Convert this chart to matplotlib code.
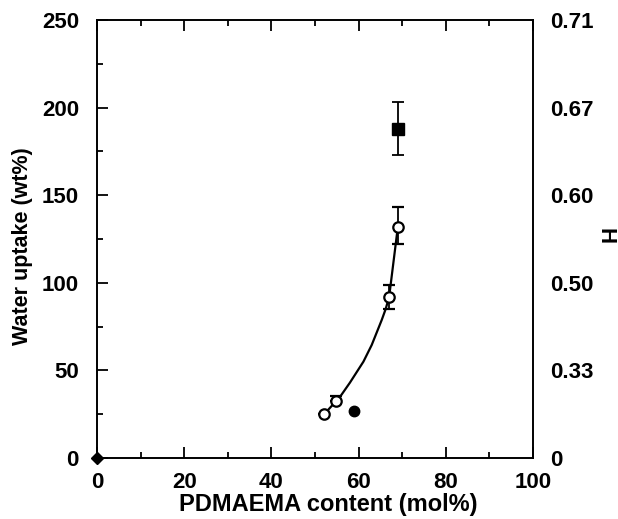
import numpy as np
import matplotlib.pyplot as plt

plt.rcParams['font.family'] = ['Liberation Sans', 'DejaVu Sans']
plt.rcParams['font.weight'] = 'bold'

# open circles (with error bars)
open_x = [52.1, 54.8, 67.0, 69.0]
open_y = [25.0, 32.4, 92.0, 132.0]
open_err_lo = [0, 0, 7, 10]
open_err_hi = [0, 3, 7, 11]

# fitted curve through the open circles
curve_x = [52.1, 54.8, 55.7, 58.0, 61.1, 63.0, 65.3, 66.2, 67.0, 69.0]
curve_y = [25.0, 32.4, 34.8, 43.0, 55.0, 64.5, 78.8, 85.0, 92.0, 132.0]

# filled square
sq_x = [69.0]
sq_y = [188.0]
sq_err = [15.0]

# filled circle
fc_x = [58.9]
fc_y = [27.0]

# diamond at origin
dm_x = [0]
dm_y = [0]

yticks = [0, 50, 100, 150, 200, 250]
h_labels = ['0', '0.33', '0.50', '0.60', '0.67', '0.71']

fig = plt.figure(figsize=(6.18, 5.19), dpi=100)
ax = fig.add_axes([0.157, 0.1175, 0.7055, 0.844])

ax.plot(curve_x, curve_y, color='black', lw=1.6, zorder=2)
ax.errorbar(open_x, open_y, yerr=[open_err_lo, open_err_hi], fmt='o',
            mfc='white', mec='black', mew=1.6, ms=7.5, ecolor='black',
            elinewidth=1.3, capsize=4, capthick=1.3, zorder=3)
ax.errorbar(sq_x, sq_y, yerr=sq_err, fmt='s', color='black', ms=8.5,
            elinewidth=1.3, capsize=4, capthick=1.3, zorder=3)
ax.plot(fc_x, fc_y, 'o', color='black', ms=7.5, zorder=3)
ax.plot(dm_x, dm_y, 'D', color='black', ms=6.5, clip_on=False, zorder=4)

ax.set_xlim(0, 100)
ax.set_ylim(0, 250)
ax.set_xticks([0, 20, 40, 60, 80, 100])
ax.set_xticks(np.arange(10, 100, 20), minor=True)
ax.set_yticks(yticks)
ax.set_yticks(np.arange(25, 250, 50), minor=True)
ax.tick_params(which='both', direction='in', top=True, right=True,
               width=1.3, labelsize=16)
ax.tick_params(axis='x', which='both', pad=10)
ax.tick_params(axis='y', which='both', pad=13)
ax.tick_params(which='major', length=8)
ax.tick_params(which='minor', length=4.5)
for s in ax.spines.values():
    s.set_linewidth(1.4)

ax2 = ax.twinx()
ax2.set_ylim(0, 250)
ax2.set_yticks(yticks)
ax2.set_yticklabels(h_labels)
ax2.tick_params(direction='in', length=0, labelsize=16, pad=12)
for s in ax2.spines.values():
    s.set_visible(False)

# axis titles placed in figure pixels
fig.text(328 / 618, 1 - 504 / 519, 'PDMAEMA content (mol%)', fontsize=17,
         fontweight='bold', ha='center', va='center')
fig.text(23 / 618, 1 - 246 / 519, 'Water uptake (wt%)', fontsize=15.5,
         fontweight='bold', rotation=90, ha='center', va='center')
fig.text(605 / 618, 1 - 236 / 519, 'H', fontsize=16, fontweight='bold',
         rotation=-90, ha='center', va='center')

fig.savefig('out.png', dpi=100)
